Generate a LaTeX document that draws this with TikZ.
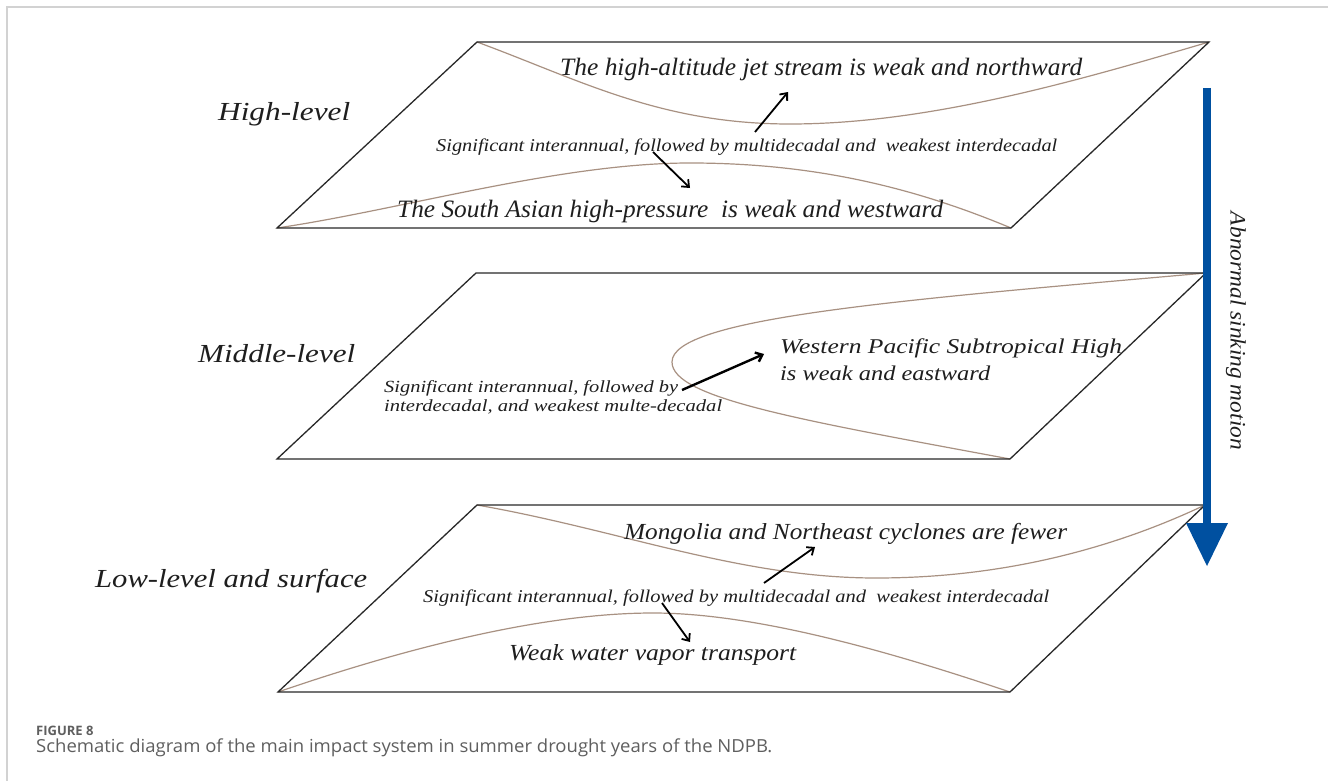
\documentclass[tikz,border=0pt]{standalone}
\usepackage{fontspec}
\setmainfont{Liberation Serif}
\newfontfamily\capfont{Open Sans}
\usepackage{graphicx}
\usetikzlibrary{arrows.meta}
\definecolor{edgec}{RGB}{40,40,40}
\definecolor{curvec}{RGB}{168,145,130}
\definecolor{sinkc}{RGB}{0,80,160}
\definecolor{framec}{RGB}{210,210,210}
\definecolor{capc}{RGB}{95,95,95}
\definecolor{txtc}{RGB}{30,30,30}
\newcommand\fitit[3]{\resizebox{#1pt}{\height}{\fontsize{#2}{#2}\selectfont\itshape #3}}
\tikzset{
 lbl/.style={inner sep=0pt, anchor=base west, text=txtc},
 plane/.style={draw=edgec, line width=1.3pt, line join=miter},
 band/.style={draw=curvec, line width=1.2pt},
 pointer/.style={draw=black, line width=1.8pt, -{Straight Barb[length=6pt,width=10pt]}},
}
\begin{document}
\begin{tikzpicture}[x=1pt,y=-1pt]
\useasboundingbox (0,0) rectangle (1328,781);
\fill[white] (0,0) rectangle (1328,781);
\draw[framec, line width=1.5pt] (7,781) -- (7,7) -- (1328,7);

% plane corners
\coordinate (hTL) at (477,42);  \coordinate (hTR) at (1209,42);
\coordinate (hBR) at (1011,228); \coordinate (hBL) at (277,228);
\coordinate (mTL) at (476,273);  \coordinate (mTR) at (1206,273);
\coordinate (mBR) at (1010,459); \coordinate (mBL) at (277,459);
\coordinate (lTL) at (477,505);  \coordinate (lTR) at (1205,505);
\coordinate (lBR) at (1010,692); \coordinate (lBL) at (278,692);

% system bands
\draw[band] (hTL) .. controls (580,80) and (660,124) .. (790,124) .. controls (930,124) and (1080,80) .. (hTR);
\draw[band] (hBL) .. controls (400,210) and (560,163) .. (690,163) .. controls (820,163) and (920,190) .. (hBR);
\draw[band] (mTR) .. controls (900,300) and (672,318) .. (672,362) .. controls (672,398) and (800,420) .. (mBR);
\draw[band] (lTL) .. controls (620,530) and (740,578) .. (876,578) .. controls (1000,578) and (1110,550) .. (lTR);
\draw[band] (lBL) .. controls (400,650) and (540,613) .. (653,613) .. controls (760,613) and (900,655) .. (lBR);

% planes
\draw[plane] (hTL) -- (hTR) -- (hBR) -- (hBL) -- cycle;
\draw[plane] (mTL) -- (mTR) -- (mBR) -- (mBL) -- cycle;
\draw[plane] (lTL) -- (lTR) -- (lBR) -- (lBL) -- cycle;

% level labels
\node[lbl] (high) at (218,121) {\fitit{132}{26}{High-level}};
\node[lbl] (mid) at (198,362) {\fitit{157}{26}{Middle-level}};
\node[lbl] (low) at (95,587) {\fitit{272}{26}{Low-level and surface}};

% high level texts
\node[lbl] (jet) at (560,76) {\fitit{522}{25}{The high-altitude jet stream is weak and northward}};
\node[lbl] (hsig) at (436,152) {\fitit{621}{18}{Significant interannual, followed by multidecadal and~ weakest interdecadal}};
\node[lbl] (sah) at (397,218) {\fitit{546}{25}{The South Asian high-pressure~ is weak and westward}};

% middle level texts
\node[lbl] (wp1) at (780,353) {\fitit{342}{21}{Western Pacific Subtropical High}};
\node[lbl] (wp2) at (780,380) {\fitit{210}{21}{is weak and eastward}};
\node[lbl] (msig1) at (384,392) {\fitit{294}{17}{Significant interannual, followed by}};
\node[lbl] (msig2) at (384,411) {\fitit{338}{17}{interdecadal, and weakest multe-decadal}};

% low level texts
\node[lbl] (mong) at (624,539) {\fitit{443}{23}{Mongolia and Northeast cyclones are fewer}};
\node[lbl] (lsig) at (423,602) {\fitit{626}{18}{Significant interannual, followed by multidecadal and~ weakest interdecadal}};
\node[lbl] (vap) at (509,660) {\fitit{287}{23}{Weak water vapor transport}};

% pointers
\coordinate (hUpS) at (755,132); \coordinate (hUpE) at (788,92);
\coordinate (hDnS) at (653,152); \coordinate (hDnE) at (690,188);
\coordinate (mS) at (682,390);   \coordinate (mE) at (764,354);
\coordinate (lUpS) at (764,583); \coordinate (lUpE) at (815,547);
\coordinate (lDnS) at (662,603); \coordinate (lDnE) at (690,642);
\draw[pointer] (hUpS) -- (hUpE);
\draw[pointer] (hDnS) -- (hDnE);
\draw[pointer, line width=2.4pt] (mS) -- (mE);
\draw[pointer] (lUpS) -- (lUpE);
\draw[pointer] (lDnS) -- (lDnE);

% sinking motion arrow
\coordinate (sinkTop) at (1207,88);
\coordinate (sinkNeck) at (1207,528);
\coordinate (sinkTip) at (1207,566);
\draw[sinkc, line width=7.5pt] (sinkTop) -- (sinkNeck);
\fill[sinkc] (1186,523) -- (1228,523) -- (sinkTip) -- cycle;
\node[rotate=-90, inner sep=0pt, text=txtc] (sinklbl) at (1236,331) {\fitit{238}{22}{Abnormal sinking motion}};

% caption
\node[lbl, text=capc] (fig) at (36,735) {\fontsize{13}{13}\selectfont\capfont\bfseries FIGURE 8};
\node[lbl, text=capc] (cap) at (36,752) {\resizebox{736pt}{\height}{\fontsize{18}{18}\selectfont\capfont Schematic diagram of the main impact system in summer drought years of the NDPB.}};
\end{tikzpicture}
\end{document}
